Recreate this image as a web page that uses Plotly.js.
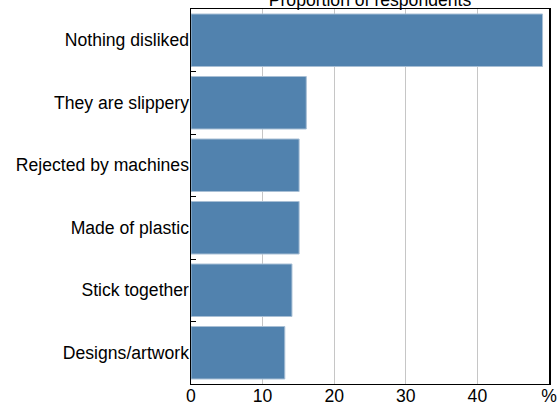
<!DOCTYPE html>
<html>
<head>
<meta charset="utf-8">
<script src="https://cdn.plot.ly/plotly-3.0.1.min.js"></script>
<style>html,body{margin:0;padding:0;background:#fff;}#chart{width:559px;height:405px;}</style>
</head>
<body>
<div id="chart"></div>
<script>
const categories = ["Nothing disliked", "They are slippery", "Rejected by machines", "Made of plastic", "Stick together", "Designs/artwork"];
const values = [49.1, 16.1, 15.1, 15.1, 14.1, 13.1];
const xTickVals = [0, 10, 20, 30, 40, 50];
const xTickText = ["0", "10", "20", "30", "40", "%"];

const trace = {
  type: "bar",
  orientation: "h",
  y: categories,
  x: values,
  marker: {color: "#5182ae", line: {color: "#a8bfd5", width: 1}},
  hoverinfo: "none"
};

const layout = {
  width: 559, height: 405,
  margin: {l: 191, r: 10, t: 9, b: 21},
  paper_bgcolor: "#fff", plot_bgcolor: "#fff",
  font: {family: "Liberation Sans, Arial, sans-serif", size: 17.6, color: "#000"},
  bargap: 0.16,
  showlegend: false,
  title: {text: "Proportion of respondents", x: 0.6619, xanchor: "center", y: 1.0, yanchor: "middle", yref: "container", font: {size: 17.6, color: "#000"}},
  xaxis: {
    range: [0, 50], tickvals: xTickVals, ticktext: xTickText,
    showgrid: true, gridcolor: "#c6c6c6", gridwidth: 1,
    zeroline: false, showline: true, linecolor: "#000", linewidth: 1, mirror: true,
    ticks: "", ticklabelstandoff: -4, fixedrange: true
  },
  yaxis: {
    type: "category", autorange: "reversed",
    showgrid: false, zeroline: false,
    showline: true, linecolor: "#000", linewidth: 1.5, mirror: true,
    ticks: "inside", tickson: "boundaries", ticklen: 5, tickcolor: "#000", tickwidth: 1,
    ticklabelstandoff: -3, fixedrange: true
  }
};

Plotly.newPlot("chart", [trace], layout, {staticPlot: true, displayModeBar: false});
</script>
</body>
</html>
